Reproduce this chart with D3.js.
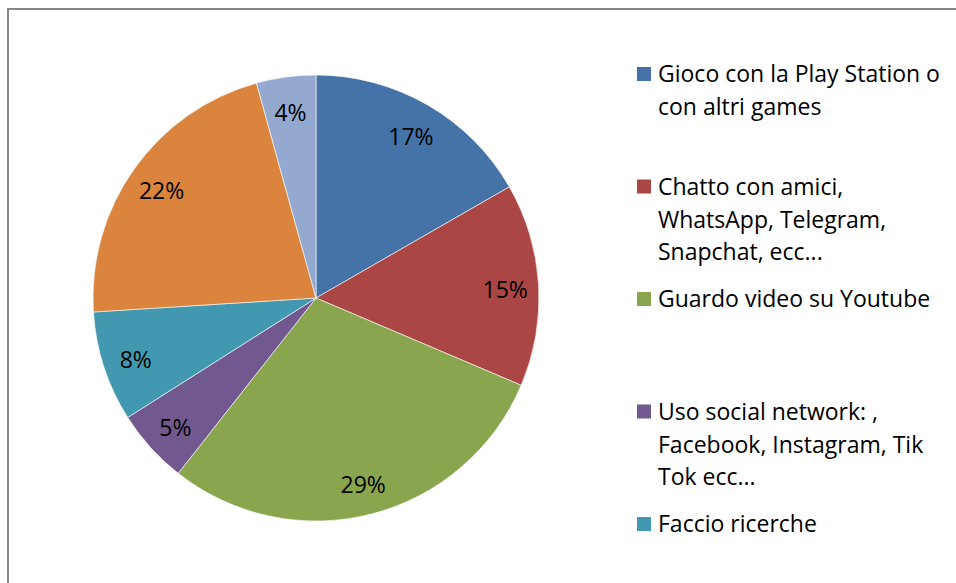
<!DOCTYPE html>
<html><head><meta charset="utf-8">
<script src="https://cdn.jsdelivr.net/npm/d3@7"></script>
<style>html,body{margin:0;padding:0;background:#fff;overflow:hidden}</style>
</head><body>
<svg id="c" width="956" height="583"></svg>
<script>
const categories = [
  ["Gioco con la Play Station o", "con altri games"],
  ["Chatto con amici,", "WhatsApp, Telegram,", "Snapchat, ecc..."],
  ["Guardo video su Youtube"],
  ["Uso social network: ,", "Facebook, Instagram, Tik", "Tok ecc..."],
  ["Faccio ricerche"],
  [],
  []
];
const values = [16.7, 14.7, 29.2, 5.4, 8.0, 21.7, 4.3];
const colors = ["#4572A7", "#AA4643", "#89A54E", "#71588F", "#4198AF", "#DB843D", "#93A9CF"];

const svg = d3.select("#c");
const font = "'Open Sans', Lato, sans-serif";
const total = d3.sum(values);
const pct = d3.format(".0%");

// outer chart border (extends beyond the visible area)
svg.append("rect").attr("x", 8).attr("y", 9).attr("width", 1000).attr("height", 700)
  .attr("fill", "#fff").attr("stroke", "#868686").attr("stroke-width", 2);

const cx = 316, cy = 298, R = 223;
const g = svg.append("g").attr("transform", `translate(${cx},${cy})`);
const pie = d3.pie().sort(null).value(d => d);
const arcs = pie(values);
const arc = d3.arc().innerRadius(0).outerRadius(R);
const labelArc = d3.arc().innerRadius(R * 0.85).outerRadius(R * 0.85);

g.selectAll("path").data(arcs).enter().append("path")
  .attr("d", arc).attr("fill", (d, i) => colors[i])
  .attr("stroke", "#fff").attr("stroke-width", 0.6);

g.selectAll("text.lbl").data(arcs).enter().append("text")
  .attr("class", "lbl")
  .attr("transform", d => `translate(${labelArc.centroid(d)})`)
  .attr("text-anchor", "middle").attr("dy", "0.48em")
  .attr("font-family", font).attr("font-size", 23).attr("fill", "#000")
  .text(d => pct(d.data / total));

// legend
const lx = 637, ly0 = 74, step = 112.5, lh = 32.8;
const leg = svg.append("g");
categories.forEach((lines, i) => {
  if (!lines.length) return;
  const y = ly0 + i * step;
  leg.append("rect").attr("x", lx).attr("y", y - 7).attr("width", 14).attr("height", 14)
    .attr("fill", colors[i]);
  lines.forEach((t, j) => {
    leg.append("text").attr("x", lx + 21).attr("y", y + j * lh).attr("dy", "0.36em")
      .attr("font-family", font).attr("font-size", 23).attr("fill", "#000").text(t);
  });
});
</script>
</body></html>
